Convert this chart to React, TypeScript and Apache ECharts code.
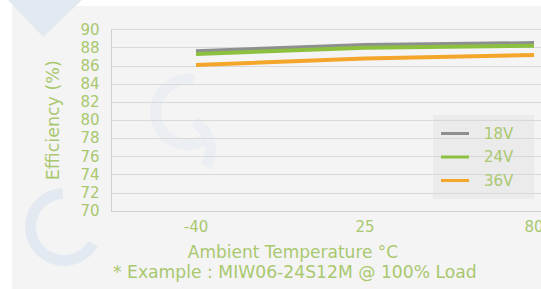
import React, { useEffect, useRef } from "react";
import * as echarts from "echarts";

const categories = ["-40", "25", "80"];
const seriesNames = ["18V", "24V", "36V"];
const v18 = [87.6, 88.3, 88.5];
const v24 = [87.3, 88.0, 88.2];
const v36 = [86.1, 86.8, 87.2];
const colors = ["#8e8f8f", "#8dc03f", "#f3a62a"];
const textColor = "#a9c86f";
const fontFamily = "'DejaVu Sans', sans-serif";

export default function App() {
  const ref = useRef<HTMLDivElement>(null);
  useEffect(() => {
    if (!ref.current) return;
    const chart = echarts.init(ref.current, undefined, { renderer: "svg" });
    const wm = "#e3e9f0";
    const deg = (d: number) => (Math.PI * d) / 180;
    chart.setOption({
      animation: false,
      backgroundColor: "#ffffff",
      textStyle: { fontFamily },
      graphic: [
        { type: "rect", z: -10, silent: true, shape: { x: 12, y: 6, width: 700, height: 283 }, style: { fill: "#f4f4f4" } },
        { type: "polygon", z: -9, silent: true, shape: { points: [[8, 0], [82, 0], [43, 37]] }, style: { fill: wm } },
        { type: "sector", z: -9, silent: true, shape: { cx: 64, cy: 227, r: 39, r0: 28, startAngle: deg(30), endAngle: deg(268), clockwise: true }, style: { fill: wm } },
        { type: "sector", z: -9, silent: true, shape: { cx: 188, cy: 112, r: 38, r0: 27, startAngle: deg(280), endAngle: deg(60), clockwise: false }, style: { fill: wm, opacity: 0.55 } },
        { type: "sector", z: -9, silent: true, shape: { cx: 178, cy: 150, r: 38, r0: 27, startAngle: deg(300), endAngle: deg(30), clockwise: true }, style: { fill: wm, opacity: 0.55 } },
        { type: "rect", z: -8, silent: true, shape: { x: 433, y: 115, width: 101, height: 84 }, style: { fill: "#ebebeb" } },
        {
          type: "text", x: 293, y: 252,
          style: { text: "Ambient Temperature °C", fill: textColor, font: `17px ${fontFamily}`, align: "center", verticalAlign: "middle" },
        },
        {
          type: "text", x: 113, y: 272,
          style: { text: "* Example : MIW06-24S12M @ 100% Load", fill: textColor, font: `17.2px ${fontFamily}`, align: "left", verticalAlign: "middle" },
        },
      ],
      legend: {
        data: seriesNames,
        orient: "vertical",
        left: 436,
        top: 121,
        itemWidth: 28,
        itemHeight: 3,
        itemGap: 8.5,
        icon: "rect",
        textStyle: { color: textColor, fontSize: 15, padding: [0, 0, 0, 10] },
      },
      grid: { left: 111.5, top: 29.5, width: 507, height: 181.5, containLabel: false },
      xAxis: {
        type: "category",
        data: categories,
        boundaryGap: true,
        axisTick: { show: false },
        axisLine: { lineStyle: { color: "#cfcfcf" } },
        axisLabel: { color: textColor, fontSize: 15, margin: 8 },
      },
      yAxis: {
        type: "value",
        min: 70,
        max: 90,
        interval: 2,
        axisLine: { show: true, lineStyle: { color: "#cfcfcf" } },
        axisTick: { show: false },
        splitLine: { lineStyle: { color: "#d9d9d9" } },
        axisLabel: { color: textColor, fontSize: 15, margin: 12 },
        name: "Efficiency (%)",
        nameLocation: "middle",
        nameGap: 50,
        nameTextStyle: { color: textColor, fontSize: 17.5 },
      },
      series: [
        { name: seriesNames[0], type: "line", data: v18, symbol: "none", lineStyle: { width: 4, color: colors[0] }, itemStyle: { color: colors[0] } },
        { name: seriesNames[1], type: "line", data: v24, symbol: "none", lineStyle: { width: 4, color: colors[1] }, itemStyle: { color: colors[1] } },
        { name: seriesNames[2], type: "line", data: v36, symbol: "none", lineStyle: { width: 4, color: colors[2] }, itemStyle: { color: colors[2] } },
      ],
    });
    return () => chart.dispose();
  }, []);
  return (
    <div style={{ position: "absolute", left: 0, top: 0, width: 541, height: 289, overflow: "hidden" }}>
      <div ref={ref} style={{ width: 640, height: 289 }} />
    </div>
  );
}
